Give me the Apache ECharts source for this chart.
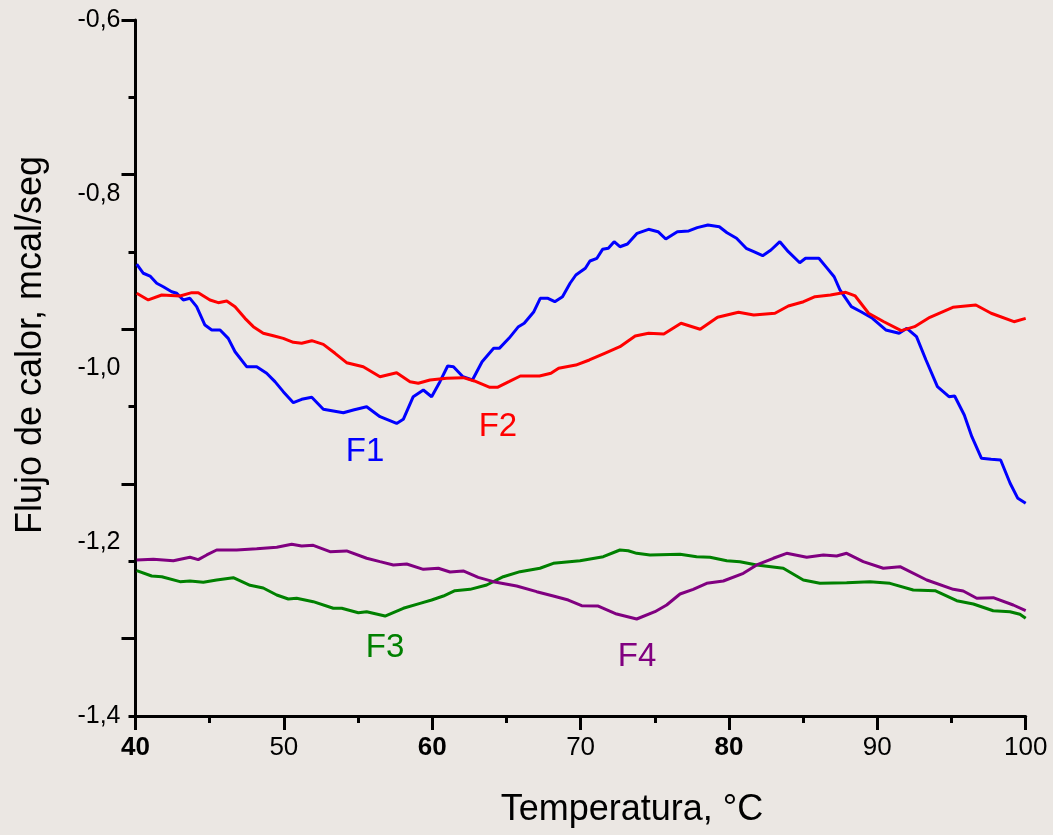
<!DOCTYPE html>
<html><head><meta charset="utf-8">
<script src="https://cdn.jsdelivr.net/npm/echarts@6/dist/echarts.min.js"></script>
<style>html,body{margin:0;padding:0;background:#ebe7e3}#c{width:1053px;height:835px}</style>
</head><body><div id="c"></div><script>
const FONT = '"Liberation Sans", Arial, Helvetica, sans-serif';
const xMin = 40, xMax = 100, xStep = 10;
const yMin = -1.4, yMax = -0.6;
const yLabelValues = [-1.4, -1.2, -1.0, -0.8, -0.6];
const yTickCount = 10;
const boldXLabels = [40, 60, 80];
const xTitle = 'Temperatura, °C';
const yTitle = 'Flujo de calor, mcal/seg';

const seriesNames = ['F1', 'F2', 'F3', 'F4'];
const seriesColors = ['#0000ff', '#ff0000', '#008000', '#800080'];
const labelPos = [[55.47, -1.0966], [64.43, -1.0678], [56.82, -1.3218], [73.80, -1.3322]];

const f1 = [[40.08,-0.8805],[40.53,-0.8911],[40.98,-0.8943],[41.43,-0.9026],[41.87,-0.9066],[42.44,-0.9123],[42.78,-0.9141],[43.22,-0.9218],[43.67,-0.9199],[44.12,-0.9295],[44.68,-0.9506],[45.14,-0.9563],[45.70,-0.9563],[46.25,-0.9659],[46.71,-0.9813],[47.49,-0.9985],[48.17,-0.9985],[48.84,-1.0061],[49.40,-1.0157],[49.96,-1.0272],[50.64,-1.0399],[51.20,-1.036],[51.88,-1.0337],[52.66,-1.0475],[54.01,-1.0514],[54.68,-1.0483],[55.58,-1.0445],[56.48,-1.056],[57.60,-1.0637],[58.05,-1.059],[58.72,-1.033],[59.40,-1.0253],[59.96,-1.033],[60.52,-1.0157],[61.04,-0.9977],[61.43,-0.9986],[62.07,-1.010],[62.71,-1.0138],[63.36,-0.9928],[64.14,-0.9774],[64.52,-0.9774],[65.17,-0.9659],[65.81,-0.9525],[66.20,-0.9486],[66.85,-0.9353],[67.28,-0.9199],[67.80,-0.9199],[68.26,-0.9238],[68.78,-0.918],[69.29,-0.9026],[69.68,-0.8931],[70.32,-0.8854],[70.63,-0.877],[71.10,-0.8739],[71.48,-0.8636],[71.87,-0.8624],[72.26,-0.8548],[72.65,-0.8606],[73.16,-0.8575],[73.81,-0.8452],[74.58,-0.8406],[75.22,-0.8433],[75.74,-0.8517],[76.52,-0.8433],[77.29,-0.8425],[77.86,-0.8387],[78.58,-0.8356],[79.35,-0.8376],[79.87,-0.8445],[80.51,-0.8509],[81.16,-0.8624],[81.67,-0.8663],[82.27,-0.8709],[82.83,-0.8644],[83.43,-0.8548],[84.00,-0.8663],[84.77,-0.879],[85.16,-0.8739],[86.06,-0.8739],[86.57,-0.8843],[87.09,-0.8951],[87.48,-0.9103],[88.25,-0.9295],[88.90,-0.9353],[89.67,-0.9429],[90.57,-0.9563],[91.47,-0.9601],[91.99,-0.9544],[92.64,-0.964],[93.28,-0.9908],[94.05,-1.0215],[94.83,-1.033],[95.21,-1.0322],[95.86,-1.054],[96.37,-1.079],[97.02,-1.1038],[97.67,-1.105],[98.31,-1.1057],[98.95,-1.1325],[99.47,-1.1498],[100,-1.1555]];

const f2 = [[40.08,-0.9141],[40.86,-0.9218],[41.77,-0.9161],[43.00,-0.9172],[43.79,-0.9134],[44.23,-0.9134],[45.02,-0.9218],[45.58,-0.9249],[46.15,-0.923],[46.71,-0.9295],[47.38,-0.9429],[47.94,-0.9525],[48.61,-0.9601],[49.29,-0.9629],[49.96,-0.9659],[50.64,-0.9705],[51.20,-0.9716],[51.88,-0.9686],[52.66,-0.9728],[53.45,-0.9831],[54.23,-0.9939],[55.35,-0.9985],[56.48,-1.010],[57.60,-1.0054],[58.50,-1.0157],[59.06,-1.0176],[59.85,-1.0138],[60.97,-1.0118],[62.09,-1.0111],[62.84,-1.0149],[63.88,-1.0222],[64.39,-1.0222],[65.17,-1.0157],[65.94,-1.0092],[67.23,-1.0092],[68.00,-1.0061],[68.52,-1.0003],[69.68,-0.9966],[70.59,-0.9908],[71.62,-0.9831],[72.65,-0.9755],[73.68,-0.9632],[74.58,-0.9601],[75.61,-0.9609],[76.77,-0.9486],[78.06,-0.9555],[79.23,-0.9417],[80.64,-0.936],[81.67,-0.9391],[83.10,-0.9371],[84.00,-0.9287],[85.03,-0.9238],[85.80,-0.918],[86.84,-0.9161],[87.87,-0.913],[88.51,-0.9172],[89.41,-0.9371],[90.44,-0.9468],[91.61,-0.9571],[92.51,-0.9525],[93.54,-0.9417],[95.09,-0.9302],[96.64,-0.9276],[97.67,-0.9371],[99.21,-0.9468],[100,-0.9429]];

const f3 = [[40.08,-1.233],[41.09,-1.2391],[41.77,-1.2399],[43.00,-1.2456],[43.67,-1.2448],[44.57,-1.2463],[45.47,-1.2437],[46.59,-1.241],[47.72,-1.2498],[48.61,-1.2529],[49.52,-1.2609],[50.30,-1.2655],[50.86,-1.2647],[51.98,-1.2686],[53.33,-1.2762],[53.90,-1.2762],[55.02,-1.2813],[55.58,-1.2801],[56.82,-1.2851],[58.05,-1.2762],[59.18,-1.2705],[59.96,-1.2667],[60.75,-1.2621],[61.53,-1.256],[62.55,-1.2544],[63.67,-1.2494],[64.79,-1.2399],[65.92,-1.2341],[67.26,-1.2302],[68.16,-1.2245],[69.96,-1.2215],[71.53,-1.2169],[72.65,-1.2092],[73.21,-1.21],[73.78,-1.213],[74.68,-1.2149],[76.70,-1.2141],[77.82,-1.2169],[78.72,-1.2176],[79.85,-1.2215],[80.74,-1.2226],[81.87,-1.2264],[83.66,-1.2302],[85.01,-1.2437],[86.13,-1.2475],[87.93,-1.2468],[89.50,-1.2456],[90.85,-1.2475],[92.42,-1.2552],[93.89,-1.256],[95.35,-1.2675],[96.47,-1.2713],[97.81,-1.279],[98.94,-1.2801],[99.61,-1.2831],[100,-1.2877]];

const f4 = [[40.08,-1.2207],[41.20,-1.2199],[42.55,-1.2215],[43.67,-1.2176],[44.23,-1.2203],[44.80,-1.2149],[45.47,-1.2092],[46.82,-1.2092],[48.17,-1.2077],[49.52,-1.2061],[50.53,-1.2026],[51.20,-1.2046],[51.98,-1.2038],[53.11,-1.2111],[54.23,-1.2103],[55.58,-1.2187],[56.48,-1.2226],[57.38,-1.2264],[58.28,-1.2253],[59.40,-1.2314],[60.41,-1.2302],[61.20,-1.2345],[62.09,-1.2333],[63.10,-1.2406],[64.12,-1.2456],[65.69,-1.2506],[67.04,-1.2571],[68.16,-1.2621],[69.17,-1.2667],[70.07,-1.2732],[71.19,-1.2736],[72.43,-1.2828],[73.78,-1.2885],[75.01,-1.2801],[75.80,-1.2724],[76.70,-1.2598],[77.59,-1.2544],[78.50,-1.2475],[79.62,-1.2448],[80.97,-1.236],[81.87,-1.2264],[82.99,-1.2187],[83.89,-1.213],[85.24,-1.2176],[86.36,-1.2149],[87.26,-1.2161],[87.93,-1.213],[89.05,-1.2226],[90.40,-1.2302],[91.53,-1.2284],[93.33,-1.2437],[95.12,-1.2544],[95.79,-1.2563],[96.70,-1.2647],[97.81,-1.264],[99.16,-1.2724],[100,-1.279]];

const seriesData = [f1, f2, f3, f4];

const yTicksAll = Array.from({length: yTickCount}, (_, k) => yMax - (yMax - yMin) * k / (yTickCount - 1));
const yMajorTicks = yTicksAll.filter((_, k) => k % 2 === 0);
const yMinorTicks = yTicksAll.filter((_, k) => k % 2 === 1);

const chart = echarts.init(document.getElementById('c'), null, {renderer: 'canvas'});
const axisLineStyle = {color: '#000', width: 3};

const option = {
  backgroundColor: '#ebe7e3',
  animation: false,
  grid: {left: 135.5, right: 27.3, top: 20, bottom: 119, containLabel: false},
  xAxis: {
    type: 'value', min: xMin, max: xMax, interval: xStep,
    splitLine: {show: false},
    axisLine: {show: true, onZero: false, lineStyle: axisLineStyle},
    axisTick: {show: true, inside: false, length: 14, lineStyle: {color: '#000', width: 3}},
    minorTick: {show: true, splitNumber: 2, length: 7, lineStyle: {color: '#000', width: 3}},
    axisLabel: {
      margin: 19, color: '#000', fontSize: 26, fontFamily: FONT,
      formatter: v => boldXLabels.indexOf(v) >= 0 ? '{b|' + v + '}' : String(v),
      rich: {b: {fontWeight: 'bold', fontSize: 26, fontFamily: FONT, color: '#000'}}
    }
  },
  yAxis: [
    {
      type: 'value', min: yMin, max: yMax, position: 'left',
      splitLine: {show: false},
      axisLine: {show: true, onZero: false, lineStyle: axisLineStyle},
      axisTick: {show: true, length: 14, customValues: yMajorTicks, lineStyle: {color: '#000', width: 3}},
      axisLabel: {
        customValues: yLabelValues, margin: 15, color: '#000', fontSize: 25, fontFamily: FONT,
        formatter: v => v.toFixed(1).replace('.', ',')
      }
    },
    {
      type: 'value', min: yMin, max: yMax, position: 'left', offset: 0,
      splitLine: {show: false},
      axisLine: {show: false},
      axisTick: {show: true, length: 7, customValues: yMinorTicks, lineStyle: {color: '#000', width: 3}},
      axisLabel: {show: false}
    }
  ],
  series: seriesData.map((d, i) => ({
    name: seriesNames[i], type: 'line', data: d, yAxisIndex: 0,
    showSymbol: false, symbol: 'none', smooth: false,
    lineStyle: {color: seriesColors[i], width: 3},
    z: 3,
    markPoint: {
      symbol: 'circle', symbolSize: 1, itemStyle: {color: 'transparent'},
      data: [{coord: labelPos[i]}],
      label: {show: true, position: 'inside', formatter: seriesNames[i], color: seriesColors[i], fontSize: 33, fontFamily: FONT}
    }
  })),
  graphic: [
    {type: 'text', x: 632, y: 810, style: {text: xTitle, font: '36px ' + FONT, fill: '#000', align: 'center', verticalAlign: 'middle'}},
    {type: 'text', x: 31, y: 345, rotation: Math.PI / 2, style: {text: yTitle, font: '36px ' + FONT, fill: '#000', align: 'center', verticalAlign: 'middle'}}
  ]
};
chart.setOption(option);
</script></body></html>
